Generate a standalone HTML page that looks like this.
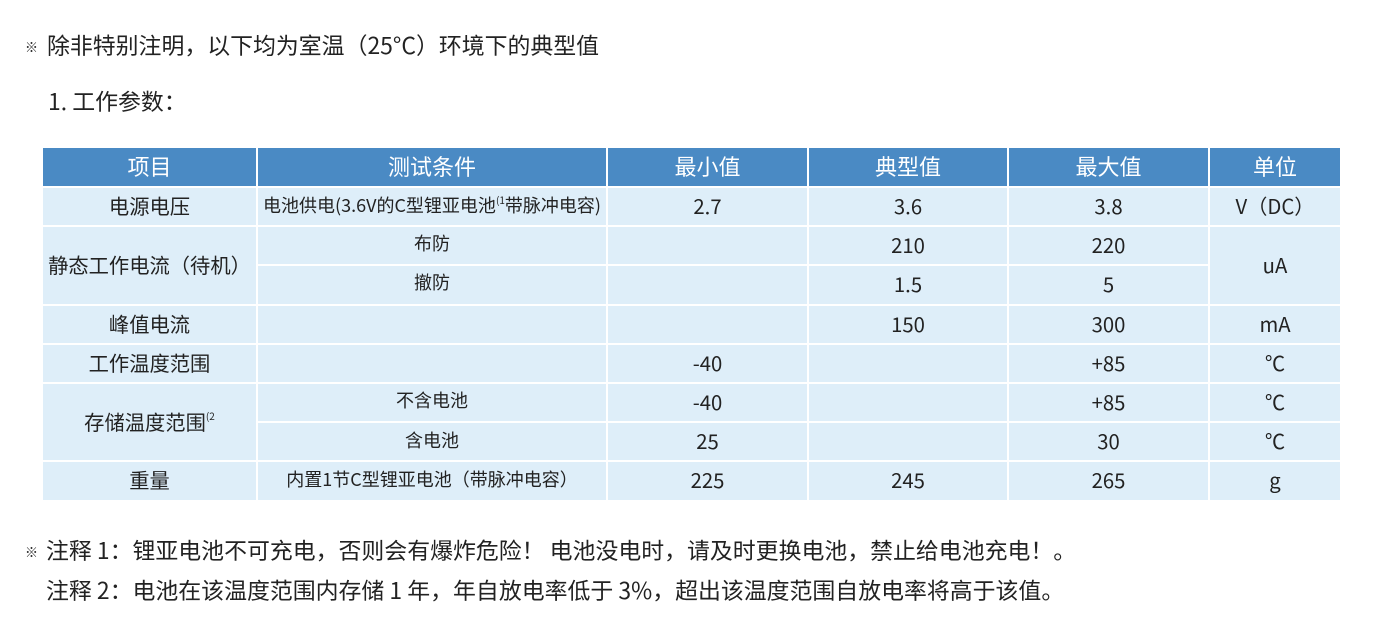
<!DOCTYPE html>
<html><head><meta charset="utf-8"><style>
html,body{margin:0;padding:0;background:#fff;width:1400px;height:626px;overflow:hidden}
body{font-family:"Noto Sans CJK SC","Liberation Sans",sans-serif;color:#222;position:relative}
.t{position:absolute;white-space:nowrap;font-size:22.9px;line-height:26px}
.star{font-size:13px;position:absolute}
table{position:absolute;left:41px;top:146px;border-collapse:collapse;table-layout:fixed}
td,th{border:2px solid #fff;text-align:center;padding:0 0 3px 0;height:34.2px;font-size:20.3px;font-weight:normal;background:#deeef9;white-space:nowrap;line-height:24px}
th{background:#4a8ac4;color:#fff;font-size:22px;height:36px;padding:0 0 2px 0}
.s{font-size:18px}
.sub{font-size:18px;vertical-align:top;padding:4px 0 0 0;height:33.2px}
sup{font-size:10px;vertical-align:top;line-height:14px}
</style></head><body>
<span class="star" style="left:25px;top:37px">※</span>
<div class="t" style="left:47px;top:31px">除非特别注明，以下均为室温（25°C）环境下的典型值</div>
<div class="t" style="left:48px;top:87px">1. 工作参数：</div>
<table>
<colgroup><col style="width:215px"><col style="width:350px"><col style="width:201px"><col style="width:200px"><col style="width:201px"><col style="width:132px"></colgroup>
<tr><th>项目</th><th>测试条件</th><th>最小值</th><th>典型值</th><th>最大值</th><th>单位</th></tr>
<tr><td>电源电压</td><td class="s">电池供电(3.6V的C型锂亚电池<sup>(1</sup>带脉冲电容)</td><td>2.7</td><td>3.6</td><td>3.8</td><td>V（DC）</td></tr>
<tr><td rowspan="2">静态工作电流（待机）</td><td class="sub">布防</td><td></td><td>210</td><td>220</td><td rowspan="2">uA</td></tr>
<tr><td class="sub">撤防</td><td></td><td>1.5</td><td>5</td></tr>
<tr><td>峰值电流</td><td></td><td></td><td>150</td><td>300</td><td>mA</td></tr>
<tr><td>工作温度范围</td><td></td><td>-40</td><td></td><td>+85</td><td>℃</td></tr>
<tr><td rowspan="2">存储温度范围<sup>(2</sup></td><td class="sub">不含电池</td><td>-40</td><td></td><td>+85</td><td>℃</td></tr>
<tr><td class="s">含电池</td><td>25</td><td></td><td>30</td><td>℃</td></tr>
<tr><td>重量</td><td class="s">内置1节C型锂亚电池（带脉冲电容）</td><td>225</td><td>245</td><td>265</td><td>g</td></tr>
</table>
<span class="star" style="left:25px;top:542px">※</span>
<div class="t" style="left:46px;top:536px">注释 1：锂亚电池不可充电，否则会有爆炸危险！ 电池没电时，请及时更换电池，禁止给电池充电！。</div>
<div class="t" style="left:46px;top:576px">注释 2：电池在该温度范围内存储 1 年，年自放电率低于 3%，超出该温度范围自放电率将高于该值。</div>
</body></html>
